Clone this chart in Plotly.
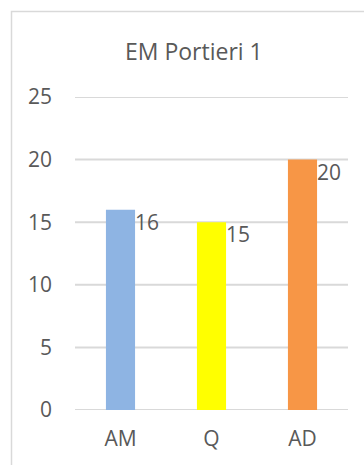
import plotly.graph_objects as go

categories = ["AM", "Q", "AD"]
values = [16, 15, 20]
colors = ["#8EB4E3", "#FFFF00", "#F79646"]
y_ticks = [0, 5, 10, 15, 20, 25]
title_text = "EM Portieri 1"

FONT = "Open Sans, Liberation Sans, sans-serif"
TXT = "#595959"
GRID = "#D9D9D9"

fig = go.Figure(go.Bar(x=categories, y=values, marker=dict(color=colors, line=dict(width=0)),
                       hoverinfo="skip"))

for c, v in zip(categories, values):
    fig.add_annotation(x=c, y=v, text=str(v), showarrow=False, xanchor="left", yanchor="middle",
                       xshift=12, yshift=-12, font=dict(family=FONT, size=21, color=TXT))

for t in y_ticks:
    fig.add_shape(type="line", xref="paper", yref="y", x0=0, x1=1, y0=t, y1=t,
                  line=dict(color=GRID, width=2), layer="below")

W, H = 364, 465
L, R, T, B = 75, 16, 97, 55
pw, ph = W - L - R, H - T - B
def px(x): return (x - L) / pw
def py(y): return (H - B - y) / ph

fig.add_shape(type="rect", xref="paper", yref="paper",
              x0=px(11.5), x1=px(380), y0=py(11.5), y1=py(480),
              line=dict(color=GRID, width=1.5), fillcolor="rgba(0,0,0,0)", layer="below")

fig.add_annotation(text=title_text, xref="paper", yref="paper", x=px(194), y=py(51),
                   xanchor="center", yanchor="middle", showarrow=False,
                   font=dict(family=FONT, size=23, color=TXT))

fig.update_layout(
    width=W, height=H, margin=dict(l=L, r=R, t=T, b=B, pad=0),
    paper_bgcolor="white", plot_bgcolor="white", showlegend=False,
    bargap=0.68,
    font=dict(family=FONT, size=21, color=TXT),
    xaxis=dict(showgrid=False, zeroline=False, showline=False, ticks="",
               ticklabelstandoff=14, tickfont=dict(size=21, color=TXT)),
    yaxis=dict(range=[0, 25], tickvals=y_ticks, showgrid=False,
               zeroline=False, showline=False, ticks="", ticklabelstandoff=22,
               tickfont=dict(size=21, color=TXT)),
)

fig.write_html("out.html")
